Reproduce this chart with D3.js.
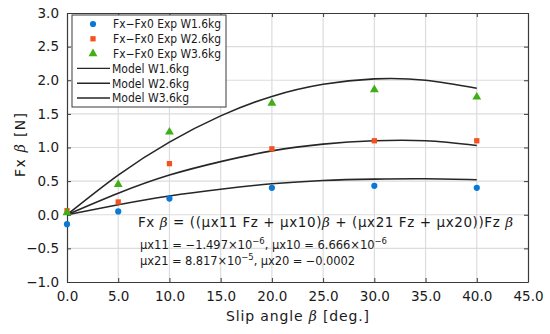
<!DOCTYPE html>
<html>
<head>
<meta charset="utf-8">
<script src="https://cdn.jsdelivr.net/npm/d3@7"></script>
<style>
  body { margin: 0; background: #fff; }
  text { font-family: "DejaVu Sans", "Noto Sans CJK JP", sans-serif; fill: #1a1a1a; }
</style>
</head>
<body>
<div id="chart"></div>
<script>
// measured points
const slipAngles = [0, 5, 10, 20, 30, 40];
const expW16 = [-0.14, 0.05, 0.24, 0.40, 0.43, 0.40];
const expW26 = [0.06, 0.19, 0.76, 0.98, 1.10, 1.10];
const expW36 = [0.03, 0.45, 1.23, 1.66, 1.86, 1.75];

// model curves
const modelAngles = [0, 5, 10, 15, 20, 25, 30, 35, 40];
const modelW16 = [0, 0.15, 0.28, 0.38, 0.46, 0.51, 0.53, 0.535, 0.52];
const modelW26 = [0, 0.32, 0.59, 0.79, 0.95, 1.05, 1.10, 1.10, 1.03];
const modelW36 = [0, 0.59, 1.08, 1.47, 1.76, 1.94, 2.02, 2.00, 1.88];

const xTicks = [0, 5, 10, 15, 20, 25, 30, 35, 40, 45];
const yTicks = [-1.0, -0.5, 0.0, 0.5, 1.0, 1.5, 2.0, 2.5, 3.0];

const legendLabels = [
  "Fx\u2212Fx0 Exp W1.6kg", "Fx\u2212Fx0 Exp W2.6kg", "Fx\u2212Fx0 Exp W3.6kg",
  "Model W1.6kg", "Model W2.6kg", "Model W3.6kg"
];

const width = 550, height = 334;
const margin = {top: 13, right: 22, bottom: 52, left: 67};
const w = width - margin.left - margin.right;
const h = height - margin.top - margin.bottom;

const svg = d3.select("#chart").append("svg")
  .attr("width", width)
  .attr("height", height);

const g = svg.append("g")
  .attr("transform", "translate(" + margin.left + "," + margin.top + ")");

const x = d3.scaleLinear().domain([0, 45]).range([0, w]);
const y = d3.scaleLinear().domain([-1, 3]).range([h, 0]);

// grid
g.append("g").selectAll("line").data(xTicks.slice(1, -1)).enter().append("line")
  .attr("x1", d => x(d)).attr("x2", d => x(d))
  .attr("y1", 0).attr("y2", h)
  .attr("stroke", "#dcdcdc").attr("stroke-width", 1.2);
g.append("g").selectAll("line").data(yTicks.slice(1, -1)).enter().append("line")
  .attr("x1", 0).attr("x2", w)
  .attr("y1", d => y(d)).attr("y2", d => y(d))
  .attr("stroke", "#dcdcdc").attr("stroke-width", 1.2);

// axes with inner ticks on all four sides
const fmt = d3.format(".1f");
const axBottom = g.append("g").attr("transform", "translate(0," + h + ")")
  .call(d3.axisBottom(x).tickValues(xTicks).tickFormat(fmt).tickSizeInner(-4).tickSizeOuter(0).tickPadding(9));
const axLeft = g.append("g")
  .call(d3.axisLeft(y).tickValues(yTicks).tickFormat(d => fmt(d).replace("-", "\u2212")).tickSizeInner(-4).tickSizeOuter(0).tickPadding(8));
const axTop = g.append("g")
  .call(d3.axisTop(x).tickValues(xTicks).tickFormat("").tickSizeInner(-4).tickSizeOuter(0));
const axRight = g.append("g").attr("transform", "translate(" + w + ",0)")
  .call(d3.axisRight(y).tickValues(yTicks).tickFormat("").tickSizeInner(-4).tickSizeOuter(0));

[axBottom, axLeft, axTop, axRight].forEach(a => {
  a.select(".domain").attr("stroke", "#3a3a3a").attr("stroke-width", 1.2);
  a.selectAll(".tick line").attr("stroke", "#3a3a3a");
  a.selectAll("text").style("font-size", "13.5px").style("font-family", "DejaVu Sans").attr("fill", "#1a1a1a");
});

// model curves
const line = d3.line()
  .x(d => x(d[0]))
  .y(d => y(d[1]))
  .curve(d3.curveNatural);

[modelW16, modelW26, modelW36].forEach(vals => {
  g.append("path")
    .datum(modelAngles.map((a, i) => [a, vals[i]]))
    .attr("d", line)
    .attr("fill", "none")
    .attr("stroke", "#262626")
    .attr("stroke-width", 1.6);
});

// experimental markers
const colors = ["#0a78d6", "#f4511e", "#3fae17"];
const circle = d3.symbol().type(d3.symbolCircle).size(30);
const square = d3.symbol().type(d3.symbolSquare).size(28);
const tri = d3.symbol().type(d3.symbolTriangle).size(34);
const symbols = [circle, square, tri];

[expW16, expW26, expW36].forEach((vals, k) => {
  g.append("g").selectAll("path")
    .data(slipAngles.map((a, i) => [a, vals[i]]))
    .enter().append("path")
    .attr("transform", d => "translate(" + x(d[0]) + "," + y(d[1]) + ")")
    .attr("d", symbols[k])
    .attr("fill", colors[k]);
});

// legend
const leg = svg.append("g").attr("transform", "translate(72,15)");
leg.append("rect")
  .attr("width", 154).attr("height", 92)
  .attr("fill", "#fff").attr("stroke", "#3a3a3a").attr("stroke-width", 1);

legendLabels.forEach((lab, i) => {
  const ly = 9 + i * 14.8;
  if (i < 3) {
    leg.append("path")
      .attr("transform", "translate(21," + ly + ")")
      .attr("d", symbols[i])
      .attr("fill", colors[i]);
  } else {
    leg.append("line")
      .attr("x1", 5).attr("x2", 38)
      .attr("y1", ly).attr("y2", ly)
      .attr("stroke", "#262626").attr("stroke-width", 1.4);
  }
  leg.append("text")
    .attr("x", i < 3 ? 41 : 40)
    .attr("y", ly + 4.4)
    .style("font-size", "12px")
    .attr("textLength", i < 3 ? 108 : 77)
    .attr("lengthAdjust", "spacingAndGlyphs")
    .text(lab);
});

// axis titles
svg.append("text")
  .attr("transform", "translate(25,145) rotate(-90)")
  .attr("text-anchor", "middle")
  .style("font-size", "14px")
  .attr("textLength", 64)
  .html('Fx <tspan font-style="italic" font-family="DejaVu Serif">\u03b2</tspan>  [N]');

svg.append("text")
  .attr("x", margin.left + w / 2)
  .attr("y", 321)
  .attr("text-anchor", "middle")
  .style("font-size", "14px")
  .attr("textLength", 143)
  .html('Slip angle <tspan font-style="italic" font-family="DejaVu Serif">\u03b2</tspan>  [deg.]');

// equation
const eq = svg.append("g");
eq.append("text")
  .attr("x", 138).attr("y", 227)
  .style("font-size", "13.5px")
  .attr("textLength", 375)
  .html('Fx <tspan font-style="italic" font-family="DejaVu Serif">\u03b2</tspan> = ((\u03bcx11 Fz + \u03bcx10)<tspan font-style="italic" font-family="DejaVu Serif">\u03b2</tspan>  + (\u03bcx21 Fz + \u03bcx20))Fz <tspan font-style="italic" font-family="DejaVu Serif">\u03b2</tspan>');
eq.append("text")
  .attr("x", 140).attr("y", 249)
  .style("font-size", "11.5px")
  .attr("textLength", 247)
  .html('\u03bcx11 = \u22121.497\u00d710<tspan dy="-5" font-size="8.5px">\u22126</tspan><tspan dy="5">,  \u03bcx10 = 6.666\u00d710</tspan><tspan dy="-5" font-size="8.5px">\u22126</tspan>');
eq.append("text")
  .attr("x", 140).attr("y", 265)
  .style("font-size", "11.5px")
  .attr("textLength", 215)
  .html('\u03bcx21 = 8.817\u00d710<tspan dy="-5" font-size="8.5px">\u22125</tspan><tspan dy="5">,  \u03bcx20 = \u22120.0002</tspan>');
</script>
</body>
</html>
